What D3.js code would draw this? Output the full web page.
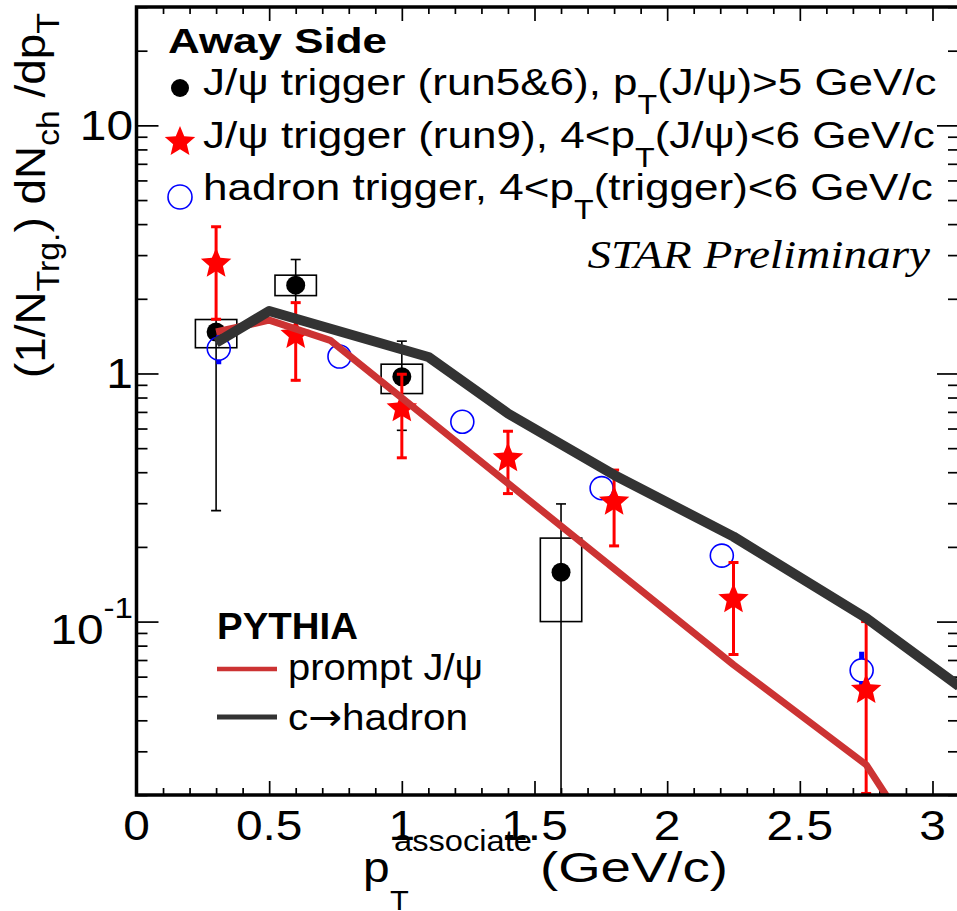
<!DOCTYPE html>
<html><head><meta charset="utf-8">
<script src="https://cdn.jsdelivr.net/npm/d3@7"></script>
<style>body{margin:0;background:#fff}svg{display:block}text{white-space:pre}</style>
</head><body>
<svg id="chart" width="957" height="911"></svg>
<script>
// ---------------- data ----------------
const xTickValues = [0, 0.5, 1, 1.5, 2, 2.5, 3];
const xTickLabels = ["0", "0.5", "1", "1.5", "2", "2.5", "3"];
const yTickValues = [0.1, 1, 10];
const yTickLabels = [["10", "-1"], ["1", ""], ["10", ""]];

// J/psi trigger (run5&6), pT(J/psi) > 5 GeV/c
const run56X = [0.3, 0.6, 1.0, 1.6];
const run56Y = [1.47, 2.27, 0.97, 0.158];
const run56Err = [1.19, 0.61, 0.38, 0.14];
const run56SysLo = [1.27, 2.06, 0.83, 0.10];
const run56SysHi = [1.65, 2.49, 1.09, 0.217];

// J/psi trigger (run9), 4 < pT(J/psi) < 6 GeV/c
const run9X = [0.3, 0.6, 1.0, 1.4, 1.8, 2.25, 2.75];
const run9Y = [2.77, 1.43, 0.723, 0.455, 0.304, 0.123, 0.053];
const run9Err = [1.13, 0.5, 0.27, 0.13, 0.104, 0.05, 0.047];

// hadron trigger, 4 < pT(trigger) < 6 GeV/c
const hadX = [0.31, 0.765, 1.228, 1.753, 2.206, 2.733];
const hadY = [1.26, 1.17, 0.639, 0.345, 0.1845, 0.0636];
const hadErr = [0.17, 0.08, 0.04, 0.02, 0.01, 0.012];

// PYTHIA prompt J/psi
const promptX = [0.3, 0.5, 0.73, 2.25, 2.75, 3.0];
const promptY = [1.47, 1.64, 1.36, 0.067, 0.0265, 0.0103];
// PYTHIA c -> hadron
const charmX = [0.3, 0.5, 1.1, 1.4, 1.8, 2.25, 2.75, 3.1];
const charmY = [1.33, 1.785, 1.166, 0.69, 0.39, 0.22, 0.1033, 0.0549];

// ---------------- layout ----------------
const svg = d3.select("#chart");
const L = 136.5, R = 959, T = 7, B = 795;
const x = d3.scaleLinear().domain([0, 3.1]).range([L, L + 3.1 * 265.33]);
const y = d3.scaleLog().domain([0.02, 30]).range([B, T]);
const FONT = "'Liberation Sans', Arial, Helvetica, sans-serif";
const SERIF = "'Liberation Serif', 'Times New Roman', serif";
const HS = 1.14; // horizontal stretch of the reference glyphs

svg.append("rect").attr("width", 957).attr("height", 911).attr("fill", "#fff");
svg.append("defs").append("clipPath").attr("id", "clip")
  .append("rect").attr("x", L).attr("y", T).attr("width", R - L).attr("height", B - T);

function label(parent, o) {
  const t = parent.append("text")
    .attr("font-family", o.family || FONT)
    .attr("font-size", o.size)
    .attr("font-weight", o.weight || "normal")
    .attr("font-style", o.style || "normal")
    .attr("text-anchor", o.anchor || "start")
    .attr("fill", o.fill || "#000");
  let shift = 0;
  o.parts.forEach(p => {
    const [s, k, fam] = Array.isArray(p) ? p : [p, "n"];
    if (!s) return;
    const target = k === "sub" ? o.subDy : k === "sup" ? -o.supDy : 0;
    const ts = t.append("tspan").attr("dy", target - shift)
      .attr("font-size", k === "n" ? o.size : o.small).text(s);
    if (fam) ts.attr("font-family", fam);
    shift = target;
  });
  let sx = o.sx || HS;
  if (o.width) { const w = t.node().getBBox().width; sx = o.width / w; }
  t.attr("transform", `translate(${o.x},${o.y}) rotate(${o.rotate || 0}) scale(${sx},1)`);
  return t;
}

// ---------------- axes ticks ----------------
const xMinor = x.ticks(31).filter(v => !xTickValues.some(m => Math.abs(m - v) < 1e-6));
const yMinor = y.ticks().filter(v => !yTickValues.some(m => Math.abs(m - v) / m < 1e-6));

function tickAxis(axisFn, scale, values, size, transform) {
  const g = svg.append("g").attr("transform", transform)
    .call(axisFn(scale).tickValues(values).tickSize(-size).tickFormat(""));
  g.select(".domain").remove();
  g.selectAll("line").attr("stroke", "#000").attr("stroke-width", 1.7);
}
tickAxis(d3.axisBottom, x, xTickValues, 14, `translate(0,${B})`);
tickAxis(d3.axisBottom, x, xMinor, 7, `translate(0,${B})`);
tickAxis(d3.axisTop, x, xTickValues, 14, `translate(0,${T})`);
tickAxis(d3.axisTop, x, xMinor, 7, `translate(0,${T})`);
tickAxis(d3.axisLeft, y, yTickValues, 22, `translate(${L},0)`);
tickAxis(d3.axisLeft, y, yMinor, 11, `translate(${L},0)`);
tickAxis(d3.axisRight, y, yTickValues, 22, `translate(${R},0)`);
tickAxis(d3.axisRight, y, yMinor, 11, `translate(${R},0)`);

// tick labels
xTickValues.forEach((v, i) => {
  label(svg, { x: x(v), y: 840, size: 42, anchor: "middle", parts: [xTickLabels[i]] });
});
yTickValues.forEach((v, i) => {
  const [base, sup] = yTickLabels[i];
  label(svg, {
    x: 133, y: y(v) + (sup ? 22 : 15), size: 42, small: 29, supDy: 26, anchor: "end",
    parts: [base, [sup, "sup"]]
  });
});

// axis titles
label(svg, {
  x: 45, y: 378, size: 42, small: 31, subDy: 14, rotate: -90, width: 365,
  parts: ["(1/N", ["Trg.", "sub"], ") dN", ["ch", "sub"], " /dp", ["T", "sub"]]
});
label(svg, { x: 363, y: 882, size: 42, parts: ["p"] });
label(svg, { x: 394, y: 851, size: 29, width: 138, parts: ["associate"] });
label(svg, { x: 390, y: 910, size: 27, parts: ["T"] });
label(svg, { x: 540, y: 882, size: 42, width: 188, parts: ["(GeV/c)"] });

// ---------------- data marks ----------------
const plot = svg.append("g").attr("clip-path", "url(#clip)");
const clampY = v => y(Math.max(v, 0.0201));

// run5&6 systematic boxes
plot.selectAll("rect.sys").data(run56X).join("rect").attr("class", "sys")
  .attr("x", (d) => x(d - 0.078)).attr("width", (d) => x(d + 0.078) - x(d - 0.078))
  .attr("y", (d, i) => y(run56SysHi[i])).attr("height", (d, i) => y(run56SysLo[i]) - y(run56SysHi[i]))
  .attr("fill", "none").attr("stroke", "#000").attr("stroke-width", 1.6);

// run5&6 stat error bars
run56X.forEach((xv, i) => {
  const lo = run56Y[i] - run56Err[i], hi = run56Y[i] + run56Err[i];
  const g = plot.append("g").attr("stroke", "#000").attr("stroke-width", 1.6);
  g.append("line").attr("x1", x(xv)).attr("x2", x(xv)).attr("y1", y(hi)).attr("y2", lo > 0.02 ? y(lo) : B + 5);
  g.append("line").attr("x1", x(xv) - 5).attr("x2", x(xv) + 5).attr("y1", y(hi)).attr("y2", y(hi));
  if (lo > 0.02) g.append("line").attr("x1", x(xv) - 5).attr("x2", x(xv) + 5).attr("y1", y(lo)).attr("y2", y(lo));
});
plot.selectAll("circle.r56").data(run56X).join("circle").attr("class", "r56")
  .attr("cx", d => x(d)).attr("cy", (d, i) => y(run56Y[i])).attr("r", 9.5).attr("fill", "#000");

// hadron trigger (open blue circles with short error stubs outside the marker)
const HR = 11.5;
hadX.forEach((xv, i) => {
  const cy = y(hadY[i]);
  const yHi = y(hadY[i] + hadErr[i]), yLo = y(hadY[i] - hadErr[i]);
  if (cy - yHi > HR) plot.append("line").attr("x1", x(xv)).attr("x2", x(xv)).attr("y1", yHi).attr("y2", cy - HR)
    .attr("stroke", "#0000ff").attr("stroke-width", 5);
  if (yLo - cy > HR) plot.append("line").attr("x1", x(xv)).attr("x2", x(xv)).attr("y1", cy + HR).attr("y2", yLo)
    .attr("stroke", "#0000ff").attr("stroke-width", 5);
});
plot.selectAll("circle.had").data(hadX).join("circle").attr("class", "had")
  .attr("cx", d => x(d)).attr("cy", (d, i) => y(hadY[i])).attr("r", HR)
  .attr("fill", "none").attr("stroke", "#0000ff").attr("stroke-width", 1.6);

// run9 red stars
const starType = {
  draw(ctx, size) {
    const r = Math.sqrt(size), ri = r * 0.45;
    for (let k = 0; k < 10; k++) {
      const a = -Math.PI / 2 + k * Math.PI / 5, rr = k % 2 ? ri : r;
      const px = rr * Math.cos(a), py = rr * Math.sin(a);
      k ? ctx.lineTo(px, py) : ctx.moveTo(px, py);
    }
    ctx.closePath();
  }
};
run9X.forEach((xv, i) => {
  const lo = run9Y[i] - run9Err[i], hi = run9Y[i] + run9Err[i];
  const g = plot.append("g").attr("stroke", "#ff0000").attr("stroke-width", 3);
  g.append("line").attr("x1", x(xv)).attr("x2", x(xv)).attr("y1", y(hi)).attr("y2", clampY(lo));
  g.append("line").attr("x1", x(xv) - 5).attr("x2", x(xv) + 5).attr("y1", y(hi)).attr("y2", y(hi));
  g.append("line").attr("x1", x(xv) - 5).attr("x2", x(xv) + 5).attr("y1", clampY(lo) - 1).attr("y2", clampY(lo) - 1);
});
plot.selectAll("path.r9").data(run9X).join("path").attr("class", "r9")
  .attr("transform", (d, i) => `translate(${x(d)},${y(run9Y[i])})`)
  .attr("d", d3.symbol().type(starType).size(16 * 16)).attr("fill", "#ff0000");

// PYTHIA curves
const line = d3.line().x(d => x(d[0])).y(d => y(d[1]));
plot.append("path").datum(promptX.map((v, i) => [v, promptY[i]])).attr("d", line)
  .attr("fill", "none").attr("stroke", "#cc3333").attr("stroke-width", 7).attr("stroke-linejoin", "round");
plot.append("path").datum(charmX.map((v, i) => [v, charmY[i]])).attr("d", line)
  .attr("fill", "none").attr("stroke", "#333333").attr("stroke-width", 10).attr("stroke-linejoin", "round");

// frame
svg.append("rect").attr("x", L).attr("y", T).attr("width", R - L).attr("height", B - T)
  .attr("fill", "none").attr("stroke", "#000").attr("stroke-width", 3.5);

// ---------------- legends ----------------
label(svg, { x: 168, y: 53, size: 35, weight: "bold", width: 219, parts: ["Away Side"] });
svg.append("circle").attr("cx", 180).attr("cy", 88).attr("r", 9).attr("fill", "#000");
svg.append("path").attr("transform", "translate(180,142)")
  .attr("d", d3.symbol().type(starType).size(16 * 16)).attr("fill", "#ff0000");
svg.append("circle").attr("cx", 180).attr("cy", 197).attr("r", 12)
  .attr("fill", "none").attr("stroke", "#0000ff").attr("stroke-width", 1.6);
label(svg, { x: 203, y: 95, size: 37, small: 27, subDy: 19, width: 734,
  parts: ["J/ψ trigger (run5&6), p", ["T", "sub"], "(J/ψ)>5 GeV/c"] });
label(svg, { x: 203, y: 148, size: 37, small: 27, subDy: 19, width: 732,
  parts: ["J/ψ trigger (run9), 4<p", ["T", "sub"], "(J/ψ)<6 GeV/c"] });
label(svg, { x: 203, y: 200, size: 37, small: 27, subDy: 19, width: 730,
  parts: ["hadron trigger, 4<p", ["T", "sub"], "(trigger)<6 GeV/c"] });
label(svg, { x: 930, y: 268, size: 40, family: SERIF, style: "italic", anchor: "end", width: 343,
  parts: ["STAR Preliminary"] });

label(svg, { x: 217, y: 639, size: 37, weight: "bold", width: 141, parts: ["PYTHIA"] });
svg.append("line").attr("x1", 217).attr("x2", 277).attr("y1", 669).attr("y2", 669)
  .attr("stroke", "#cc3333").attr("stroke-width", 4.5);
svg.append("line").attr("x1", 217).attr("x2", 277).attr("y1", 717).attr("y2", 717)
  .attr("stroke", "#333333").attr("stroke-width", 5);
label(svg, { x: 288, y: 680, size: 37, width: 195, parts: ["prompt J/ψ"] });
label(svg, { x: 288, y: 730, size: 37, small: 37, subDy: 0, width: 180,
  parts: ["c", ["→", "sub", "'DejaVu Sans', sans-serif"], "hadron"] });
</script>
</body></html>
